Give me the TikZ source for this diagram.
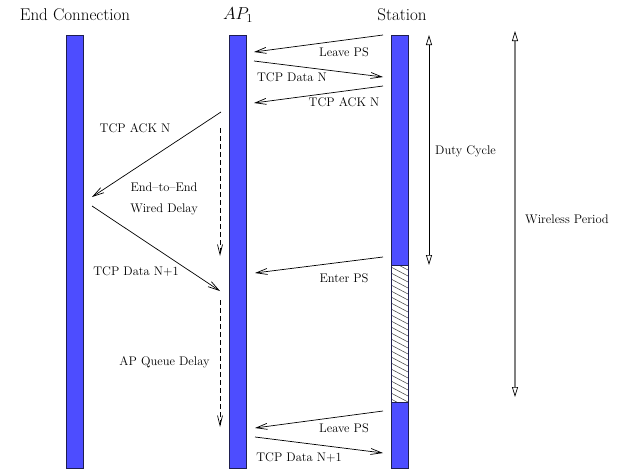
\documentclass[tikz,border=0pt]{standalone}
\usepackage{fontspec}
\usetikzlibrary{arrows.meta}
\definecolor{barblue}{RGB}{77,77,255}
\definecolor{baredge}{RGB}{30,30,80}
\begin{document}
\begin{tikzpicture}[x=1pt,y=-1pt,
  bar/.style={draw=baredge,line width=0.8pt,fill=barblue,minimum width=17pt,inner sep=0pt,outer sep=0pt,anchor=north west},
  hatchbar/.style={draw=baredge,line width=0.8pt,minimum width=17pt,inner sep=0pt,outer sep=0pt,anchor=north west},
  hatch/.style={line width=0.5pt,draw=black!75},
  title/.style={font=\rmfamily\fontsize{17}{20}\selectfont,inner sep=0pt},
  lbl/.style={font=\rmfamily\fontsize{12.5}{15}\selectfont,inner sep=0pt},
  msg/.style={line width=0.7pt,-{Straight Barb[length=11pt,width=6pt,line width=0.7pt]}},
  delay/.style={line width=0.7pt,dash pattern=on 5pt off 3pt,-{Straight Barb[length=10pt,width=5pt,line width=0.7pt]}},
  span/.style={line width=0.8pt,{Triangle[length=10pt,width=6pt,color=black,fill=white,line width=0.7pt]}-{Triangle[length=10pt,width=6pt,color=black,fill=white,line width=0.7pt]}}
]
\useasboundingbox (0,0) rectangle (623,471);

% titles
\node[title] (tEnd) at (75,15) {End Connection};
\node[title] (tAP) at (238,15) {$AP_1$};
\node[title] (tSt) at (402,15) {Station};

% bars
\node[bar,minimum height=433pt] (barEnd) at (66.5,35) {};
\node[bar,minimum height=433pt] (barAP) at (229,35) {};
\node[bar,minimum height=230pt] (barSt1) at (391,35) {};
\node[hatchbar,minimum height=137pt] (barSt2) at (391,265) {};
\node[bar,minimum height=66pt] (barSt3) at (391,402) {};
\begin{scope}
  \clip (barSt2.north west) rectangle (barSt2.south east);
  \foreach \yy in {255,261,...,405} {
    \draw[hatch] (391,\yy) -- (408,\yy+9);
  }
\end{scope}
\draw[draw=baredge,line width=0.8pt] (barSt2.north west) rectangle (barSt2.south east);

% message end points
\coordinate (s1) at (383,35);  \coordinate (a1) at (254,52);
\coordinate (a2) at (254,61);  \coordinate (s2) at (383,77);
\coordinate (s3) at (383,86);  \coordinate (a3) at (254,103);
\coordinate (a4) at (221,112); \coordinate (e4) at (92,197);
\coordinate (e5) at (92,206);  \coordinate (a5) at (220,291);
\coordinate (s6) at (383,257); \coordinate (a6) at (255,273);
\coordinate (s7) at (383,411); \coordinate (a7) at (255,428);
\coordinate (a8) at (255,437); \coordinate (s8) at (383,453);
\coordinate (d1a) at (220,128); \coordinate (d1b) at (220,256);
\coordinate (d2a) at (220,300); \coordinate (d2b) at (220,427);
\coordinate (dcA) at (429,35); \coordinate (dcB) at (429,265);
\coordinate (wpA) at (515,31); \coordinate (wpB) at (515,397);

\draw[msg] (s1) -- (a1);
\draw[msg] (a2) -- (s2);
\draw[msg] (s3) -- (a3);
\draw[msg] (a4) -- (e4);
\draw[msg] (e5) -- (a5);
\draw[msg] (s6) -- (a6);
\draw[msg] (s7) -- (a7);
\draw[msg] (a8) -- (s8);
\draw[delay] (d1a) -- (d1b);
\draw[delay] (d2a) -- (d2b);
\draw[span] (dcA) -- (dcB);
\draw[span,draw=black!50,line width=1.5pt] (wpA) -- (wpB);

% labels
\node[lbl] (l1) at (344,52) {Leave PS};
\node[lbl] (l2) at (292,77) {TCP Data N};
\node[lbl] (l3) at (344,102) {TCP ACK N};
\node[lbl] (l4) at (135,128) {TCP ACK N};
\node[lbl,align=center,font=\rmfamily\fontsize{12.5}{21}\selectfont] (l5) at (164,198.5) {End--to--End\\Wired Delay};
\node[lbl] (l6) at (136,272) {TCP Data N+1};
\node[lbl] (l7) at (344,278) {Enter PS};
\node[lbl] (l8) at (164.5,362) {AP Queue Delay};
\node[lbl] (l9) at (344,428) {Leave PS};
\node[lbl] (l10) at (299,458) {TCP Data N+1};
\node[lbl,anchor=west] (l11) at (435,151) {Duty Cycle};
\node[lbl,anchor=west] (l12) at (525,219) {Wireless Period};
\end{tikzpicture}
\end{document}
